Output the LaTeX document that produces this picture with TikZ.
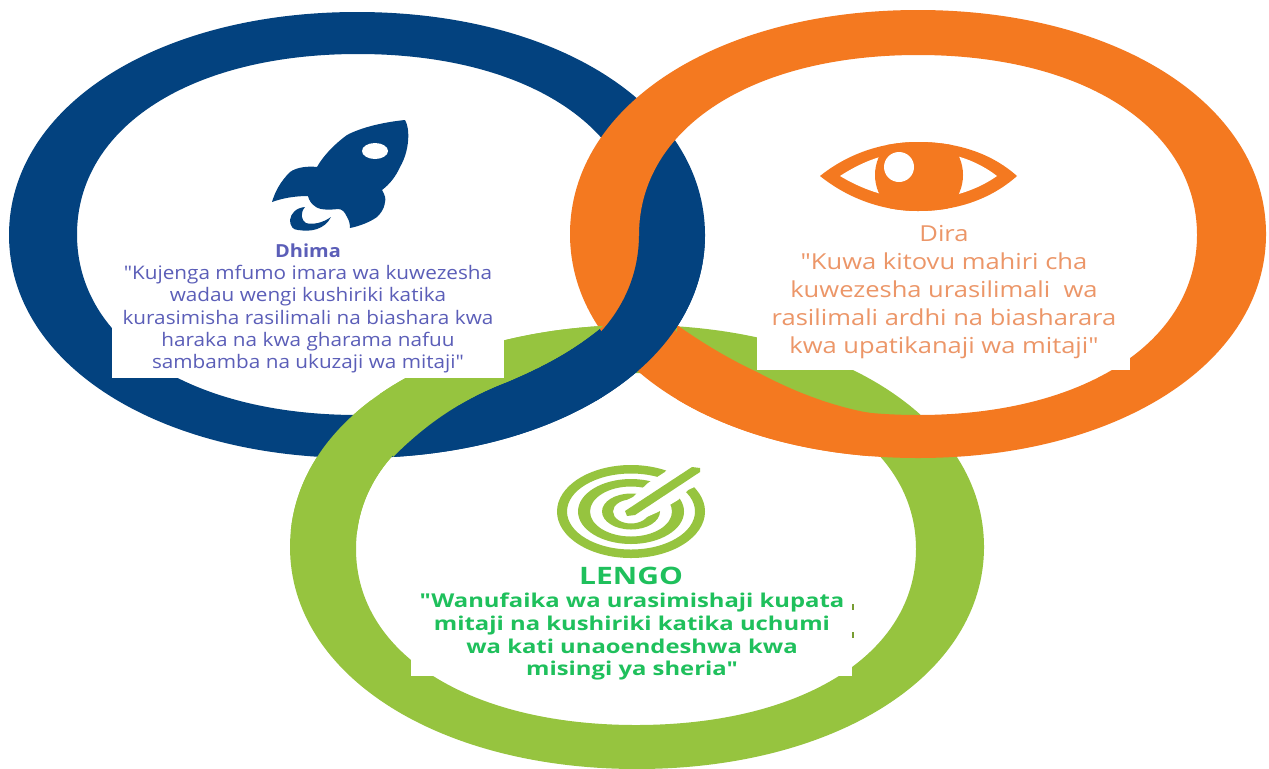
\documentclass[tikz,border=0pt]{standalone}
\usepackage{fontspec}
\setmainfont{Open Sans}
\newfontfamily\fontblue[FakeStretch=1.11]{Open Sans}
\newfontfamily\fontorange[FakeStretch=1.16]{Open Sans}
\newfontfamily\fontgreen[FakeStretch=1.25]{Open Sans}
\definecolor{cblue}{HTML}{03427F}
\definecolor{corange}{HTML}{F47920}
\definecolor{cgreen}{HTML}{96C43F}
\definecolor{tblue}{HTML}{5B5EB8}
\definecolor{torange}{HTML}{EC9668}
\definecolor{tgreen}{HTML}{1FC05C}
% rounded ellipse: cx, cy, a, b, k
\newcommand\roundell[5]{({#1+#3},#2)
  .. controls ({#1+#3},{#2-#5*#4}) and ({#1+#5*#3},{#2-#4}) .. (#1,{#2-#4})
  .. controls ({#1-#5*#3},{#2-#4}) and ({#1-#3},{#2-#5*#4}) .. ({#1-#3},#2)
  .. controls ({#1-#3},{#2+#5*#4}) and ({#1-#5*#3},{#2+#4}) .. (#1,{#2+#4})
  .. controls ({#1+#5*#3},{#2+#4}) and ({#1+#3},{#2+#5*#4}) .. ({#1+#3},#2) -- cycle}
\def\blueouter{\roundell{357}{235}{348}{223}{0.575}}
\def\blueinner{\roundell{358}{234.5}{281}{180.5}{0.595}}
\def\orangeouter{\roundell{918}{234}{348}{224}{0.575}}
\def\orangeinner{\roundell{918}{235}{279}{180}{0.595}}
\def\greenouter{\roundell{637}{547}{347}{222}{0.575}}
\def\greeninner{\roundell{636}{549}{280}{176}{0.595}}
\def\scurve{(393,457) .. controls (425,425) and (460,400) .. (507,382) .. controls (540,368) and (572,352) .. (603,326)}
\def\ocurve{(677,325) .. controls (705,345) and (735,362) .. (757,372) .. controls (785,387) and (825,405) .. (870,413)}
\def\eyelens{(820,176) .. controls (850,152) and (885,142) .. (918,142)
  .. controls (955,142) and (990,152) .. (1017,176)
  .. controls (990,200) and (955,211) .. (918,211)
  .. controls (885,211) and (850,200) .. (820,176) -- cycle}
\tikzset{
  ringfill/.style={even odd rule,fill=#1},
  textbox/.style={fill=white,draw=none},
  bodytext/.style={align=center,inner sep=0pt,text=#1},
}
\begin{document}
\begin{tikzpicture}[x=0.75pt,y=-0.75pt]
\useasboundingbox (0,0) rectangle (1269,768);
\fill[white] (0,0) rectangle (1269,768);
% rings, interlaced
\path[ringfill=cgreen] \greenouter \greeninner;
\path[ringfill=cblue] \blueouter \blueinner;
\begin{scope}
  \clip \blueouter;
  \fill[cblue] \scurve -- (603,480) -- (393,480) -- cycle;
\end{scope}
\path[ringfill=corange] \orangeouter \orangeinner;
\begin{scope}
  \clip \orangeouter;
  \fill[corange] \ocurve -- (870,480) -- (677,480) -- cycle;
\end{scope}
\begin{scope}
  \clip (580,236) rectangle (720,400);
  \path[ringfill=cblue] \blueouter \blueinner;
\end{scope}
\begin{scope}
  \clip (280,400) rectangle (393,530);
  \path[ringfill=cgreen] \greenouter \greeninner;
\end{scope}
\begin{scope}
  \clip \greenouter;
  \fill[cgreen] \scurve -- (603,300) -- (380,300) -- (380,400) -- cycle;
\end{scope}
% white panels behind the texts
\fill[textbox] (112,260) rectangle (504,378);
\fill[textbox] (757,260) rectangle (1130,370);
\fill[textbox] (411,590) rectangle (852,676);
\fill[cgreen!80!black] (852,604) rectangle (854,610);
\fill[cgreen!80!black] (852,632) rectangle (854,638);
% rocket
\fill[cblue] (405,120) .. controls (410,128) and (410,150) .. (400,167)
  .. controls (396,176) and (390,184) .. (382,190)
  .. controls (385,195) and (386,199) .. (385,202)
  .. controls (384,210) and (380,214) .. (377,217)
  .. controls (370,222) and (360,226) .. (350,228)
  .. controls (350,224) and (349,220) .. (347,217)
  .. controls (345,212) and (342,209) .. (338,209)
  .. controls (330,210) and (320,210) .. (316,207)
  .. controls (311,204) and (309,200) .. (308,196)
  .. controls (295,196) and (283,198) .. (272,202)
  .. controls (275,192) and (280,182) .. (290,172)
  .. controls (297,167) and (308,166) .. (317,167)
  .. controls (322,158) and (332,146) .. (347,135)
  .. controls (362,127) and (385,122) .. (405,120) -- cycle;
\fill[white] (375,151) ellipse [x radius=13,y radius=8];
\fill[cblue] (305,207) .. controls (296,208) and (291,213) .. (290,220)
  .. controls (290,226) and (293,230) .. (298,230)
  .. controls (305,231) and (311,231) .. (317,229)
  .. controls (323,227) and (328,223) .. (331,217)
  .. controls (327,220) and (322,222) .. (318,223)
  .. controls (313,224) and (309,224) .. (306,223)
  .. controls (301,220) and (300,213) .. (305,207) -- cycle;
% eye
\fill[corange] \eyelens;
\fill[white] (840,176) .. controls (860,163) and (880,155) .. (900,153)
  -- (940,153) .. controls (960,155) and (980,163) .. (997,176)
  .. controls (980,188) and (960,195) .. (940,198)
  -- (900,198) .. controls (880,195) and (860,188) .. (840,176) -- cycle;
\begin{scope}
  \clip \eyelens;
  \fill[corange] (919,175) circle [radius=44];
\end{scope}
\fill[white] (899,167) circle [radius=15];
% target
\path[ringfill=cgreen] (631,511.5) ellipse [x radius=74,y radius=46.5] (631,511.5) ellipse [x radius=64,y radius=38];
\path[ringfill=cgreen] (631,511.5) ellipse [x radius=53,y radius=32.5] (631,511.5) ellipse [x radius=41,y radius=25];
\path[ringfill=cgreen] (631,511.5) ellipse [x radius=29,y radius=18] (631,511.5) ellipse [x radius=18,y radius=12];
\fill[white] (627,500) -- (633,497) -- (648,483) -- (665,472) -- (680,455) -- (720,455) -- (720,475) -- (688,490) -- (678,500) -- (658,512) -- (640,520) -- (622,515) -- cycle;
\fill[cgreen] (625,511) -- (692,467) -- (700,468) -- (700,472) -- (635,515) -- (627,516) -- cycle;
% texts
\node[bodytext=tblue,font=\fontblue\bfseries\fontsize{13.5}{16}\selectfont] (dhima) at (308,251) {Dhima};
\node[bodytext=tblue,font=\fontblue\fontsize{14}{16.7}\selectfont,anchor=north] (dhimatext) at (308,265)
 {"Kujenga mfumo imara wa kuwezesha\\ wadau wengi kushiriki katika\\ kurasimisha rasilimali na biashara kwa\\ haraka na kwa gharama nafuu\\ sambamba na ukuzaji wa mitaji"};
\node[bodytext=torange,font=\fontorange\fontsize{16.5}{21}\selectfont] (dira) at (944,234) {Dira};
\node[bodytext=torange,font=\fontorange\fontsize{16.5}{21}\selectfont,anchor=north] (diratext) at (944,253)
 {"Kuwa kitovu mahiri cha\\ kuwezesha urasilimali\ \ wa\\ rasilimali ardhi na biasharara\\ kwa upatikanaji wa mitaji"};
\node[bodytext=tgreen,font=\fontgreen\bfseries\fontsize{18}{18}\selectfont] (lengo) at (631,576) {LENGO};
\node[bodytext=tgreen,font=\fontgreen\bfseries\fontsize{14.3}{17}\selectfont,anchor=north] (lengotext) at (632,593)
 {"Wanufaika wa urasimishaji kupata\\ mitaji na kushiriki katika uchumi\\ wa kati unaoendeshwa kwa\\ misingi ya sheria"};
\end{tikzpicture}
\end{document}
